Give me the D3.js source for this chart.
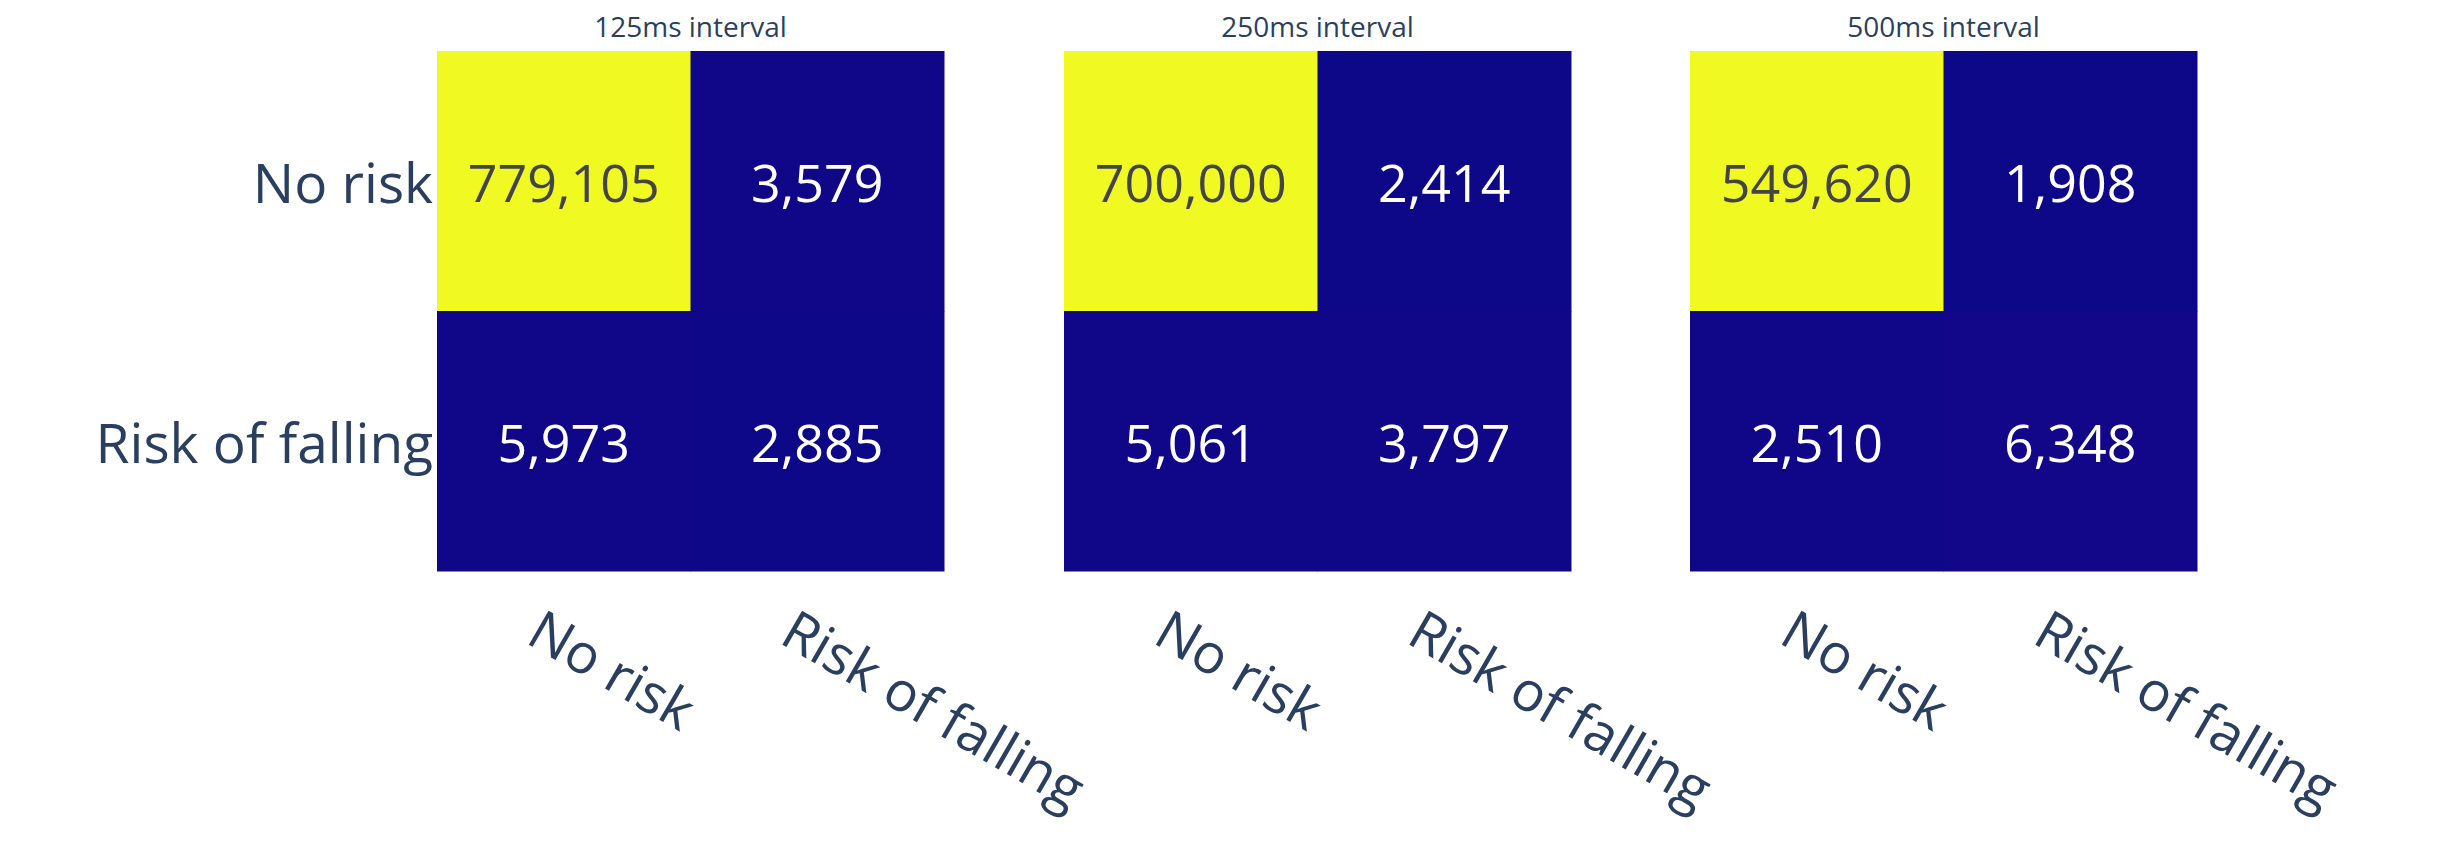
<!DOCTYPE html>
<html><head><meta charset="utf-8">
<script src="https://cdn.jsdelivr.net/npm/d3@7"></script>
<style>body{margin:0;background:#fff}</style></head>
<body><svg id="c" width="2446" height="863"></svg>
<script>
const titles = ["125ms interval", "250ms interval", "500ms interval"];
const rowLabels = ["No risk", "Risk of falling"];
const colLabels = ["No risk", "Risk of falling"];
const m125 = [[779105, 3579], [5973, 2885]];
const m250 = [[700000, 2414], [5061, 3797]];
const m500 = [[549620, 1908], [2510, 6348]];
const matrices = [m125, m250, m500];

const svg = d3.select("#c");
const panelX = [437, 1064, 1690];
const pw = 507, panelTop = 51, ph = 520;
const fmt = d3.format(",");
const font = "'Open Sans', sans-serif";
const labelColor = "#2a3f5f";

matrices.forEach((m, i) => {
  const g = svg.append("g").attr("transform", `translate(${panelX[i]},${panelTop})`);
  const x = d3.scaleBand().domain(colLabels).range([0, pw]);
  const y = d3.scaleBand().domain(rowLabels).range([0, ph]);
  const maxV = d3.max(m.flat());
  const color = d3.scaleSequential(d3.interpolatePlasma).domain([0, maxV]);
  const cells = [];
  m.forEach((row, r) => row.forEach((v, c) => cells.push({r: rowLabels[r], c: colLabels[c], v})));
  g.selectAll("rect").data(cells).join("rect")
    .attr("x", d => x(d.c)).attr("y", d => y(d.r))
    .attr("width", x.bandwidth() + 0.5).attr("height", y.bandwidth() + 0.5)
    .attr("fill", d => color(d.v));
  g.selectAll("text.v").data(cells).join("text").attr("class", "v")
    .attr("x", d => x(d.c) + x.bandwidth() / 2).attr("y", d => y(d.r) + y.bandwidth() / 2)
    .attr("text-anchor", "middle").attr("dominant-baseline", "central")
    .attr("font-family", font).attr("font-size", 52)
    .attr("fill", d => d.v > maxV / 2 ? "#444444" : "#ffffff")
    .text(d => fmt(d.v));
  g.append("text").attr("x", pw / 2).attr("y", -14).attr("text-anchor", "middle")
    .attr("font-family", font).attr("font-size", 28).attr("fill", labelColor).text(titles[i]);
  if (i === 0) {
    g.selectAll("text.y").data(rowLabels).join("text").attr("class", "y")
      .attr("x", -4).attr("y", d => y(d) + y.bandwidth() / 2)
      .attr("text-anchor", "end").attr("dominant-baseline", "central")
      .attr("font-family", font).attr("font-size", 55).attr("fill", labelColor).text(d => d);
  }
  g.selectAll("text.x").data(colLabels).join("text").attr("class", "x")
    .attr("transform", d => `translate(${x(d) + x.bandwidth() / 2 - 16},${ph + 30}) rotate(30)`)
    .attr("text-anchor", "start").attr("dominant-baseline", "hanging")
    .attr("font-family", font).attr("font-size", 55).attr("fill", labelColor).text(d => d);
});
</script></body></html>
